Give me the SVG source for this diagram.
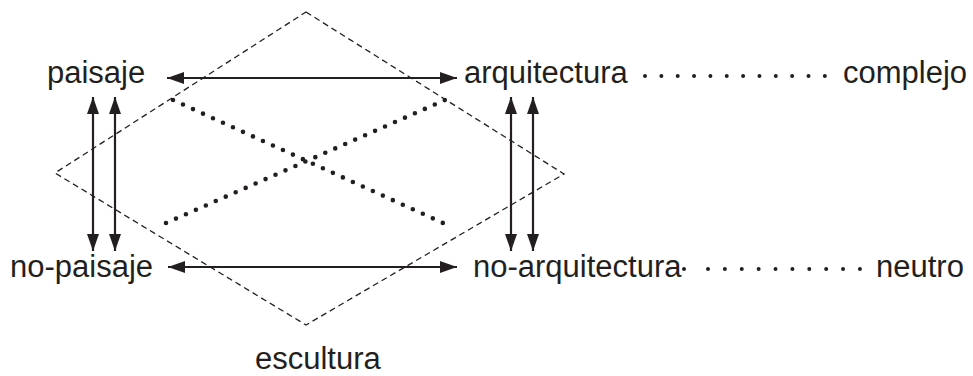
<svg xmlns="http://www.w3.org/2000/svg" width="973" height="376" viewBox="0 0 973 376">
<style>
  .lbl { font-family: "Liberation Sans", Arial, sans-serif; font-size: 31px; fill: #231f20; }
  .arrow { stroke: #231f20; stroke-width: 2.2; fill: none; marker-start: url(#head); marker-end: url(#head); }
  .dash { stroke: #231f20; stroke-width: 1.3; fill: none; stroke-dasharray: 6 4; }
  .dots { stroke: #231f20; stroke-width: 4.6; stroke-linecap: round; fill: none; }
  .hdots { stroke: #231f20; stroke-width: 4; stroke-linecap: round; fill: none; }
</style>
<defs>
  <marker id="head" markerUnits="userSpaceOnUse" markerWidth="20" markerHeight="14" viewBox="0 -7 18 14" refX="17" refY="0" orient="auto-start-reverse">
    <path d="M0,-6 L17,0 L0,6 z" fill="#231f20"/>
  </marker>
</defs>
<rect width="973" height="376" fill="#ffffff"/>

<g id="connectors">
  <polygon class="dash" points="306,12 564,174 306,325 55,173"/>
  <line class="arrow" x1="167" y1="78" x2="457" y2="78"/>
  <line class="arrow" x1="168" y1="267" x2="457" y2="267"/>
  <line class="arrow" x1="93" y1="97" x2="93" y2="251"/>
  <line class="arrow" x1="115" y1="97" x2="115" y2="251"/>
  <line class="arrow" x1="511" y1="97" x2="511" y2="251"/>
  <line class="arrow" x1="533" y1="97" x2="533" y2="251"/>
  <line class="dots" x1="173" y1="100" x2="443" y2="223" stroke-dasharray="0 10.98"/>
  <line class="dots" x1="166" y1="223" x2="445" y2="100" stroke-dasharray="0 10.88"/>
  <line class="hdots" x1="645" y1="76" x2="825" y2="76" stroke-dasharray="0 16.35"/>
  <circle cx="684" cy="269" r="2" fill="#231f20"/>
  <line class="hdots" x1="708" y1="269" x2="860" y2="269" stroke-dasharray="0 16.88"/>
</g>

<g id="paisaje"><text class="lbl" x="47" y="83">paisaje</text></g>
<g id="arquitectura"><text class="lbl" x="464" y="83">arquitectura</text></g>
<g id="complejo"><text class="lbl" x="843" y="83">complejo</text></g>
<g id="no-paisaje"><text class="lbl" x="10" y="277">no-paisaje</text></g>
<g id="no-arquitectura"><text class="lbl" x="473" y="277">no-arquitectura</text></g>
<g id="neutro"><text class="lbl" x="876" y="277">neutro</text></g>
<g id="escultura"><text class="lbl" x="255" y="369">escultura</text></g>
</svg>
